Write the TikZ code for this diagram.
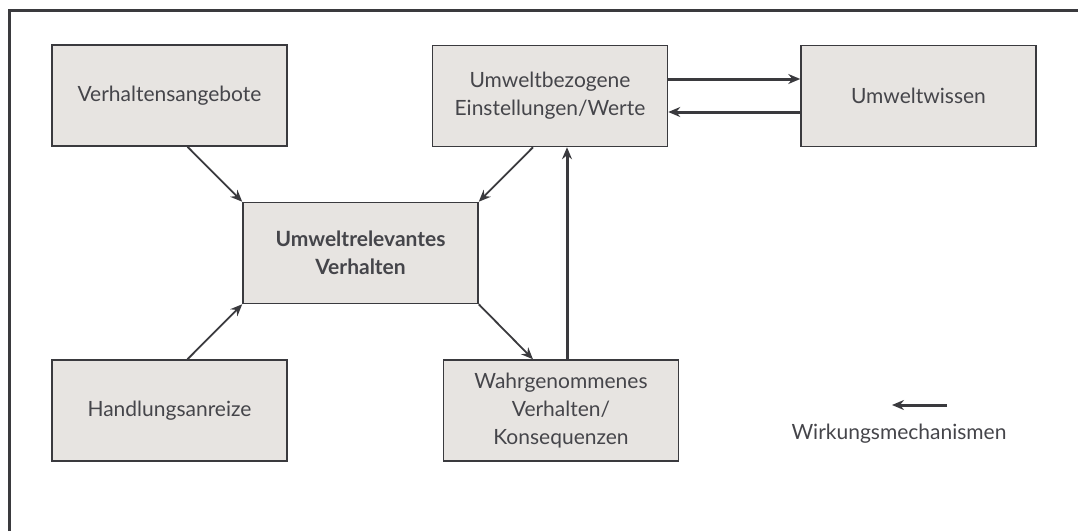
\documentclass[tikz,border=0pt]{standalone}
\usepackage{fontspec}
\setmainfont{Lato}
\usetikzlibrary{arrows.meta}
\definecolor{boxfill}{HTML}{E7E4E1}
\definecolor{inkgray}{HTML}{3A3A3E}
\definecolor{textgray}{HTML}{45454A}
\tikzset{
  box/.style={rectangle,draw=inkgray,fill=boxfill,line width=0.75pt,
    minimum width=117.5pt,minimum height=50.5pt,align=center,text=textgray,
    font=\fontsize{10.5}{14}\selectfont},
  mainbox/.style={box,font=\bfseries\fontsize{10.5}{14}\selectfont},
  arrowtip/.style={-{Stealth[length=6pt,width=5pt,inset=2pt]}}
}
\begin{document}
\begin{tikzpicture}[x=0.5pt,y=-0.5pt]
	\useasboundingbox (0,0) rectangle (1078,531);
	\draw[inkgray,line width=1.5pt] (9,531) -- (9,10) -- (1078,10);

	\begin{scope}[every node/.style={box}]
		\node (angebote) at (169.5,95.5) {Verhaltensangebote};
		\node (einst) at (550,96) {Umweltbezogene\\Einstellungen/Werte};
		\node (wissen) at (918.5,96) {Umweltwissen};
		\node[mainbox] (verhalten) at (360.5,253) {Umweltrelevantes\\Verhalten};
		\node (anreize) at (169.5,410.5) {Handlungsanreize};
		\node (wahr) at (561,410.5) {Wahrgenommenes\\Verhalten/\\Konsequenzen};
	\end{scope}

	\coordinate (legR) at (947,405);
	\coordinate (legL) at (892,405);
	\node[text=textgray,font=\fontsize{10.5}{14}\selectfont] (legtext) at (899,434) {Wirkungsmechanismen};

	\begin{scope}[every edge/.style={draw=inkgray,line width=0.9pt,arrowtip}]
		\path ([xshift=9pt]angebote.south) edge (verhalten.north west);
		\path ([xshift=-8.5pt]einst.south) edge (verhalten.north east);
		\path ([xshift=9pt]anreize.north) edge (verhalten.south west);
		\path (verhalten.south east) edge ([xshift=-14pt]wahr.north);
	\end{scope}

	\begin{scope}[every edge/.style={draw=inkgray,line width=1.5pt,arrowtip}]
		\path ([xshift=3pt]wahr.north) edge ([xshift=3pt]wahr.north |- einst.south);
		\path ([yshift=8.5pt]einst.east) edge ([yshift=8.5pt]einst.east -| wissen.west);
		\path ([yshift=-8pt]wissen.west) edge ([yshift=-8pt]wissen.west -| einst.east);
		\path (legR) edge (legL);
	\end{scope}
\end{tikzpicture}
\end{document}
